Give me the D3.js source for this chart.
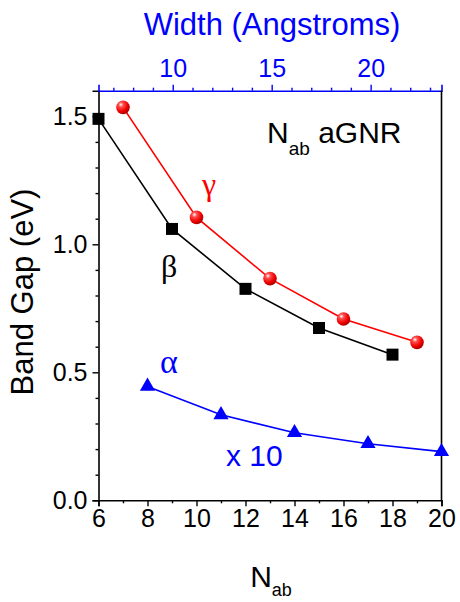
<!DOCTYPE html>
<html><head><meta charset="utf-8">
<script src="https://cdn.jsdelivr.net/npm/d3@7"></script>
<style>body{margin:0;background:#fff}svg{display:block}</style>
</head><body><div id="c"></div>
<script>
// ---- data ----
const betaN = [6, 9, 12, 15, 18];
const betaGap = [1.49, 1.06, 0.826, 0.673, 0.569];
const gammaN = [7, 10, 13, 16, 19];
const gammaGap = [1.535, 1.105, 0.866, 0.708, 0.617];
const alphaN = [8, 11, 14, 17, 20];
const alphaGap = [0.445, 0.334, 0.264, 0.221, 0.19];
const xTicks = [6, 8, 10, 12, 14, 16, 18, 20];
const yTicks = [0.0, 0.5, 1.0, 1.5];
const topTicks = [10, 15, 20];

const W = 460, H = 602;
const sans = "Liberation Sans, Arial, sans-serif";
const svg = d3.select("#c").append("svg").attr("width", W).attr("height", H)
  .style("font-family", sans);
const x = d3.scaleLinear().domain([6, 20]).range([98.5, 441.5]);
const y = d3.scaleLinear().domain([0, 1.6]).range([500.3, 90.7]);
const xTop = d3.scaleLinear().domain([6.25, 23.58]).range([98.5, 441.5]);

const defs = svg.append("defs");
const g = defs.append("radialGradient").attr("id", "ball").attr("cx", "35%").attr("cy", "30%").attr("r", "70%");
g.append("stop").attr("offset", "0%").attr("stop-color", "#ffffff");
g.append("stop").attr("offset", "25%").attr("stop-color", "#ff5050");
g.append("stop").attr("offset", "70%").attr("stop-color", "#f00000");
g.append("stop").attr("offset", "100%").attr("stop-color", "#b00000");

const tickFont = 25;
// bottom axis
svg.append("g").attr("transform", `translate(0,${y(0)})`)
  .call(d3.axisBottom(x).tickValues(xTicks).tickSize(6).tickPadding(3).tickFormat(d3.format("d")));
svg.append("g").attr("transform", `translate(0,${y(0)})`)
  .call(d3.axisBottom(x).tickValues(d3.range(7, 20, 2)).tickSize(3).tickFormat(""))
  .call(a => a.select(".domain").remove());
// left axis
svg.append("g").attr("transform", `translate(${x(6)},0)`)
  .call(d3.axisLeft(y).tickValues(yTicks).tickSize(6).tickPadding(5).tickFormat(d3.format(".1f")));
svg.append("g").attr("transform", `translate(${x(6)},0)`)
  .call(d3.axisLeft(y).tickValues(d3.range(1, 16).filter(v => v % 5 !== 0).map(v => v / 10)).tickSize(3).tickFormat(""))
  .call(a => a.select(".domain").remove());
// top axis
svg.append("g").attr("class", "top").attr("transform", `translate(0,${y(1.6)})`)
  .call(d3.axisTop(xTop).tickValues(topTicks).tickSize(6).tickPadding(8).tickFormat(d3.format("d")));
svg.append("g").attr("class", "top").attr("transform", `translate(0,${y(1.6)})`)
  .call(d3.axisTop(xTop).tickValues(d3.range(7, 24).filter(v => v % 5 !== 0)).tickSize(3).tickFormat(""))
  .call(a => a.select(".domain").remove());
// right axis line
svg.append("line").attr("x1", x(20)).attr("x2", x(20)).attr("y1", y(0)).attr("y2", y(1.6))
  .attr("stroke", "#000").attr("stroke-width", 1.6);

svg.selectAll(".domain").attr("stroke-width", 1.6).attr("stroke", "#000");
svg.selectAll(".tick line").attr("stroke-width", 1.4).attr("stroke", "#000");
svg.selectAll(".tick text").attr("font-size", tickFont).attr("fill", "#000").style("font-family", sans);
svg.selectAll(".top .domain, .top .tick line").attr("stroke", "#0000ff");
svg.selectAll(".top .tick text").attr("fill", "#0000ff");

// lines
const line = d3.line().x(d => x(d[0])).y(d => y(d[1]));
const beta = betaN.map((n, i) => [n, betaGap[i]]);
const gamma = gammaN.map((n, i) => [n, gammaGap[i]]);
const alpha = alphaN.map((n, i) => [n, alphaGap[i]]);
svg.append("path").datum(beta).attr("d", line).attr("fill", "none").attr("stroke", "#000").attr("stroke-width", 1.6);
svg.append("path").datum(gamma).attr("d", line).attr("fill", "none").attr("stroke", "#ff0000").attr("stroke-width", 1.6);
svg.append("path").datum(alpha).attr("d", line).attr("fill", "none").attr("stroke", "#0000ff").attr("stroke-width", 1.6);

// markers
svg.selectAll(".sq").data(beta).join("path")
  .attr("transform", d => `translate(${x(d[0])},${y(d[1])})`)
  .attr("d", d3.symbol(d3.symbolSquare, 144)).attr("fill", "#000");
svg.selectAll(".ball").data(gamma).join("circle")
  .attr("cx", d => x(d[0])).attr("cy", d => y(d[1])).attr("r", 6.8).attr("fill", "url(#ball)");
svg.selectAll(".tri").data(alpha).join("path")
  .attr("transform", d => `translate(${x(d[0])},${y(d[1])})`)
  .attr("d", d3.symbol(d3.symbolTriangle, 100)).attr("fill", "#0000ff");

// labels
const lf = 30;
const greek = "Liberation Serif, Times New Roman, serif";
svg.append("text").attr("x", 202).attr("y", 195).attr("font-size", 32).style("font-family", greek).attr("fill", "#ff0000").text("γ");
svg.append("text").attr("x", 161).attr("y", 277).attr("font-size", 32).style("font-family", greek).attr("fill", "#000").text("β");
svg.append("text").attr("x", 160).attr("y", 373).attr("font-size", 34).style("font-family", greek).attr("fill", "#0000ff").text("α");
svg.append("text").attr("x", 226).attr("y", 466).attr("font-size", lf).attr("fill", "#0000ff").text("x 10");

const t1 = svg.append("text").attr("x", 267).attr("y", 143).attr("font-size", lf).attr("fill", "#000");
t1.append("tspan").text("N");
t1.append("tspan").attr("font-size", 19).attr("dy", 12).text("ab");
t1.append("tspan").attr("dy", -12).text(" aGNR");

// axis titles
svg.append("text").attr("x", 272).attr("y", 35).attr("text-anchor", "middle").attr("font-size", 31).attr("fill", "#0000ff").text("Width (Angstroms)");
const xt = svg.append("text").attr("x", 271).attr("y", 587).attr("text-anchor", "middle").attr("font-size", lf).attr("fill", "#000");
xt.append("tspan").text("N");
xt.append("tspan").attr("font-size", 18).attr("dy", 9).text("ab");
svg.append("text").attr("transform", "translate(33,292) rotate(-90)").attr("text-anchor", "middle")
  .attr("font-size", 31).attr("fill", "#000").text("Band Gap (eV)");
</script></body></html>
